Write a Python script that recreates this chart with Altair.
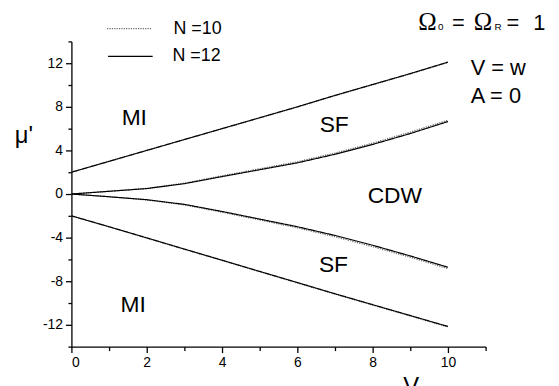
import altair as alt
import pandas as pd

# ---- data ----
V = [0, 1, 2, 3, 4, 5, 6, 7, 8, 9, 10]

# N = 12 (solid)
mi_up_12 = [2.0, 3.0, 4.0, 5.0, 6.0, 7.0, 8.0, 9.05, 10.05, 11.05, 12.1]
sf_up_12 = [0.0, 0.25, 0.5, 0.95, 1.6, 2.23, 2.86, 3.65, 4.55, 5.55, 6.65]
sf_lo_12 = [0.0, -0.25, -0.52, -0.95, -1.6, -2.3, -3.0, -3.8, -4.7, -5.68, -6.72]
mi_lo_12 = [-2.0, -3.0, -4.02, -5.05, -6.07, -7.1, -8.12, -9.15, -10.15, -11.15, -12.15]

# N = 10 (dotted)
mi_up_10 = [2.0, 3.0, 4.0, 5.0, 5.98, 6.98, 7.98, 9.02, 10.02, 11.02, 12.07]
sf_up_10 = [0.0, 0.25, 0.52, 1.0, 1.67, 2.32, 2.96, 3.76, 4.67, 5.68, 6.78]
sf_lo_10 = [0.0, -0.25, -0.55, -1.0, -1.67, -2.38, -3.1, -3.92, -4.83, -5.8, -6.85]
mi_lo_10 = [-2.0, -3.02, -4.05, -5.08, -6.1, -7.13, -8.16, -9.19, -10.19, -11.19, -12.2]

series_labels = ["N =10", "N =12"]
branch_names = ["MI upper", "SF upper", "SF lower", "MI lower"]

x_major = [0, 2, 4, 6, 8, 10]
x_minor = [1, 3, 5, 7, 9, 11]
y_major = [-12, -8, -4, 0, 4, 8, 12]
y_minor = [-14, -10, -6, -2, 2, 6, 10, 14]

region_text = ["MI", "SF", "CDW", "SF", "MI"]

# ---- build table ----
series = {
    "N =10": [mi_up_10, sf_up_10, sf_lo_10, mi_lo_10],
    "N =12": [mi_up_12, sf_up_12, sf_lo_12, mi_lo_12],
}
rows = []
for n_label, branches in series.items():
    for bname, vals in zip(branch_names, branches):
        for v, m in zip(V, vals):
            rows.append({"V": v, "mu": m, "branch": bname, "N": n_label})
df = pd.DataFrame(rows)

FONT = "Liberation Sans"
SERIF = "Liberation Serif"
xs = alt.Scale(domain=[0, 11], nice=False, zero=False)
ys = alt.Scale(domain=[-14, 14], nice=False, zero=False)

lines = alt.Chart(df).mark_line(strokeWidth=1.2).encode(
    x=alt.X("V:Q", scale=xs, title=None,
            axis=alt.Axis(values=x_major, tickSize=6, labelExpr="datum.value + ''", grid=False,
                          labelPadding=3, orient="bottom")),
    y=alt.Y("mu:Q", scale=ys, title=None,
            axis=alt.Axis(values=y_major, tickSize=6, labelExpr="datum.value + ''", grid=False,
                          labelPadding=3, orient="left")),
    detail="branch:N",
    color=alt.Color("N:N", scale=alt.Scale(domain=series_labels, range=["#6a6a6a", "#000000"]),
                    legend=None),
    strokeDash=alt.StrokeDash("N:N", scale=alt.Scale(domain=series_labels, range=[[1.2, 1.2], [1, 0]]),
                              legend=None),
    order=alt.Order("V:Q"),
)

minor = alt.Chart(df).mark_point(opacity=0).encode(
    x=alt.X("V:Q", scale=xs, title=None,
            axis=alt.Axis(values=x_minor, tickSize=4, labels=False, domain=False,
                          grid=False, orient="bottom")),
    y=alt.Y("mu:Q", scale=ys, title=None,
            axis=alt.Axis(values=y_minor, tickSize=3.5, labels=False, domain=False,
                          grid=False, orient="left")),
)

reg_df = pd.DataFrame({
    "text": region_text,
    "V": [1.67, 6.98, 8.59, 6.96, 1.64],
    "mu": [6.94, 6.36, -0.15, -6.52, -10.2],
})
regions = alt.Chart(reg_df).mark_text(font=FONT, fontSize=23, color="black",
                                      align="center", baseline="middle").encode(
    x=alt.X("V:Q", scale=xs, axis=None),
    y=alt.Y("mu:Q", scale=ys, axis=None),
    text="text:N",
)

one = pd.DataFrame({"a": [0]})


def ptext(txt, x, y, size, align="left", baseline="middle", font=FONT):
    return alt.Chart(one).mark_text(text=txt, font=font, fontSize=size, color="black",
                                    align=align, baseline=baseline).encode(
        x=alt.value(x), y=alt.value(y))


def prule(x1, x2, y, color, dash):
    return alt.Chart(one).mark_rule(color=color, strokeWidth=1.2, strokeDash=dash).encode(
        x=alt.value(x1), x2=alt.value(x2), y=alt.value(y))


annotations = [
    # legend
    prule(36, 81, -13, "#6a6a6a", [1.2, 1.2]),
    ptext(series_labels[0], 103, -13, 18),
    prule(37, 82, 15, "#000000", [1, 0]),
    ptext(series_labels[1], 102, 15, 18),
    # header
    ptext("Ω", 350, -12, 25, baseline="alphabetic", font=SERIF),
    ptext("0", 370, -12, 10, baseline="alphabetic"),
    ptext("=", 384, -12, 22, baseline="alphabetic"),
    ptext("Ω", 406, -12, 25, baseline="alphabetic", font=SERIF),
    ptext("R", 427, -12, 10, baseline="alphabetic"),
    ptext("=", 439, -12, 22, baseline="alphabetic"),
    ptext("1", 466, -12, 22, baseline="alphabetic"),
    ptext("V = w", 403, 27, 22),
    ptext("A = 0", 403, 55, 22),
    # axis titles
    ptext("μ'", -48, 95, 24, align="center"),
    ptext("V", 343, 356, 24, align="center", baseline="alphabetic"),
]

chart = alt.layer(lines, minor, regions, *annotations).resolve_scale(
    x="independent", y="independent"
).properties(
    width=418, height=308,
    padding={"left": 64, "top": 32, "right": 66, "bottom": 38},
    autosize=alt.AutoSizeParams(type="none"),
).configure_view(strokeWidth=0).configure_axis(
    domainColor="black", domainWidth=1.3, tickColor="black", tickWidth=1.3,
    labelFont=FONT, labelFontSize=14, labelColor="black",
)

chart.save("out.html", embed_options={"renderer": "svg", "actions": False})
